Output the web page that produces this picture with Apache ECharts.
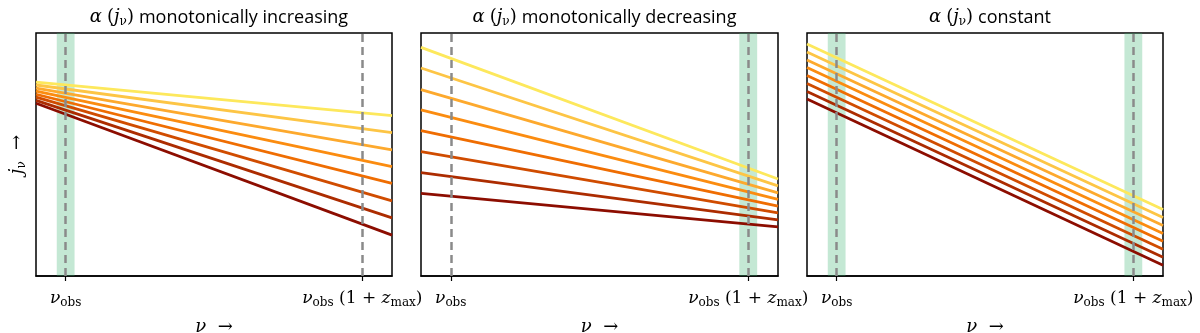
<!DOCTYPE html>
<html>
<head>
<meta charset="utf-8">
<script src="https://cdn.jsdelivr.net/npm/echarts@6/dist/echarts.min.js"></script>
<style>
  html, body { margin: 0; padding: 0; background: #fff; }
  #chart { width: 1200px; height: 333px; }
</style>
</head>
<body>
<div id="chart"></div>
<script>
// tick positions on the frequency axis (nu_obs and nu_obs(1+z_max))
const tickValues = [0, 1]
const xRange = [-0.1, 1.1]

// line colours, yellow -> dark red
const lineColors = ['#fde85c', '#fdc545', '#fda92d', '#fb8c10', '#ef6d02', '#d04c00', '#ac2c00', '#8c0d00']

// j_nu at the left and right edge of each panel (0..100 scale)
const incLeft = [79.8, 78.6, 77.3, 76.1, 74.8, 73.6, 72.3, 71.1]
const incRight = [66.0, 59.0, 51.9, 45.0, 38.1, 30.9, 23.9, 16.8]
const decLeft = [94.1, 85.6, 76.7, 68.4, 59.8, 51.2, 42.5, 34.0]
const decRight = [39.9, 37.1, 34.2, 31.5, 28.8, 26.0, 23.1, 20.2]
const conLeft = [95.5, 92.2, 88.9, 85.8, 82.5, 79.2, 75.9, 72.8]
const conRight = [27.4, 24.1, 20.8, 17.5, 14.3, 11.0, 7.7, 4.4]

const titles = ['monotonically increasing', 'monotonically decreasing', 'constant']
const bandCenters = [[0], [1], [0, 1]]
const bandHalfWidth = 0.03

const grids = [
    { left: 36, top: 33, width: 356, height: 243 },
    { left: 421, top: 33, width: 357, height: 243 },
    { left: 807, top: 33, width: 356, height: 243 }
]

const mathFont = '"DejaVu Serif", "Liberation Serif", serif'
const sansFont = '"Open Sans", "DejaVu Sans", sans-serif'
const makeRich = (size) => ({
    m: { fontFamily: mathFont, fontStyle: 'italic', fontWeight: 'normal', fontSize: size, color: '#000' },
    r: { fontFamily: mathFont, fontWeight: 'normal', fontSize: size, color: '#000' },
    s: { fontFamily: mathFont, fontWeight: 'normal', fontSize: Math.round(size * 0.68), color: '#000', padding: [Math.round(size / 2), 0, 0, 0] },
    t: { fontFamily: sansFont, fontWeight: 'normal', fontSize: 18, color: '#000' }
})
const mathRich = makeRich(18)
const tickRich = makeRich(17)

const tickLabel = (v) => v === 0
    ? '{m|ν}{s|obs}'
    : '{m|ν}{s|obs}{r| (1 + }{m|z}{s|max}{r|)}'

const panels = [[incLeft, incRight], [decLeft, decRight], [conLeft, conRight]]

const xAxis = grids.map((g, i) => ({
    type: 'value',
    gridIndex: i,
    min: xRange[0],
    max: xRange[1],
    name: '{m|ν}{r|  →}',
    nameLocation: 'middle',
    nameGap: 42,
    nameTextStyle: { rich: mathRich },
    splitLine: { show: false },
    axisLine: { show: true, onZero: false, lineStyle: { color: '#000', width: 1.5 } },
    axisTick: { show: true, customValues: tickValues, length: 5, lineStyle: { color: '#000', width: 1.2 } },
    axisLabel: { customValues: tickValues, margin: 12, formatter: tickLabel, rich: tickRich }
}))

const yAxis = grids.map((g, i) => ({
    type: 'value',
    gridIndex: i,
    min: 0,
    max: 100,
    name: i === 0 ? '{m|j}{s|ν}{r|  →}' : '',
    nameLocation: 'middle',
    nameRotate: 90,
    nameGap: 8,
    nameTextStyle: { rich: mathRich },
    splitLine: { show: false },
    axisLine: { show: false },
    axisTick: { show: false },
    axisLabel: { show: false }
}))

const series = []
panels.forEach(([left, right], p) => {
    left.forEach((l, k) => {
        series.push({
            type: 'line',
            xAxisIndex: p,
            yAxisIndex: p,
            data: [[xRange[0], l], [xRange[1], right[k]]],
            showSymbol: false,
            silent: true,
            z: 2,
            lineStyle: { color: lineColors[k], width: 2.8 }
        })
    })
    // shaded band + dashed markers on top of the lines
    series.push({
        type: 'line',
        xAxisIndex: p,
        yAxisIndex: p,
        data: [],
        z: 5,
        silent: true,
        markArea: {
            silent: true,
            itemStyle: { color: 'rgba(60,179,113,0.3)' },
            data: bandCenters[p].map(c => [{ xAxis: c - bandHalfWidth }, { xAxis: c + bandHalfWidth }])
        },
        markLine: {
            silent: true,
            symbol: 'none',
            label: { show: false },
            lineStyle: { color: '#8a8a8a', width: 2.5, type: [8, 5] },
            data: tickValues.map(v => ({ xAxis: v }))
        }
    })
})

const title = grids.map((g, i) => ({
    text: '{m|α} {r|(}{m|j}{s|ν}{r|)} {t|' + titles[i] + '}',
    left: g.left + g.width / 2,
    textAlign: 'center',
    top: 2,
    textStyle: { fontWeight: 'normal', rich: mathRich }
}))

const chart = echarts.init(document.getElementById('chart'), null, { renderer: 'canvas' })
chart.setOption({
    animation: false,
    backgroundColor: '#fff',
    title,
    grid: grids.map(g => ({
        ...g, show: true, borderColor: '#000', borderWidth: 1.5,
        containLabel: false, outerBoundsMode: 'none'
    })),
    xAxis,
    yAxis,
    series
})
</script>
</body>
</html>
